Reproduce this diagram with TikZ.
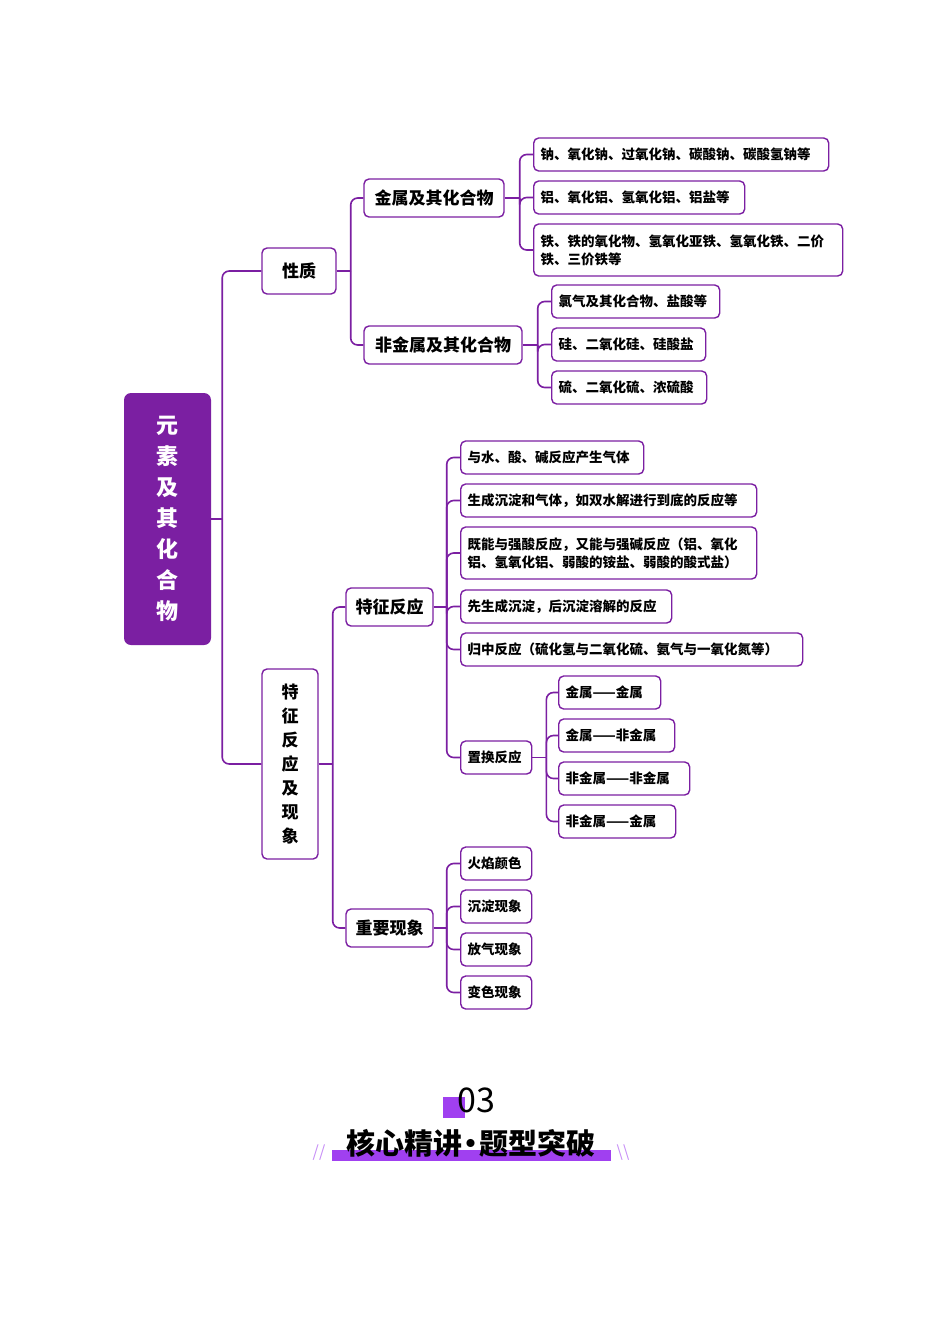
\documentclass[tikz,border=0pt]{standalone}
\usepackage{fontspec}
\setmainfont{Noto Sans CJK SC}
\definecolor{mpurple}{RGB}{123,31,162}
\definecolor{bpurple}{RGB}{160,64,240}
\tikzset{
  box/.style={draw=mpurple, line width=1.4pt, rounded corners=5pt, fill=white, inner sep=0pt},
  leaf/.style={box, anchor=west, minimum height=33pt, inner xsep=7pt, font=\fontsize{13.5}{18}\selectfont\bfseries, align=left},
  mid/.style={box, minimum height=38pt, font=\fontsize{17}{20}\selectfont\bfseries},
  link/.style={draw=mpurple, line width=1.6pt, rounded corners=7pt},
}
\begin{document}
\begin{tikzpicture}[x=1pt,y=-1pt]
	\useasboundingbox (0,0) rectangle (950,1344);

	% root
	\node[fill=mpurple, rounded corners=7pt, minimum width=87pt, minimum height=252pt, text=white,
	  font=\fontsize{22}{31}\selectfont\bfseries, align=center] (root) at (167.5,519)
	  {元\\素\\及\\其\\化\\合\\物};

	% level 1
	\node[mid, minimum width=74pt, minimum height=46pt] (prop) at (299,271) {性质};
	\node[box, minimum width=56pt, minimum height=190pt, font=\fontsize{17}{24}\selectfont\bfseries, align=center]
	  (feat) at (290,764) {特\\征\\反\\应\\及\\现\\象};

	% level 2
	\node[mid, minimum width=140pt] (metal) at (434,198) {金属及其化合物};
	\node[mid, minimum width=158pt] (nonmetal) at (443,345) {非金属及其化合物};
	\node[mid, minimum width=87pt] (react) at (389.5,607) {特征反应};
	\node[mid, minimum width=87pt] (pheno) at (389.5,928) {重要现象};

	% metal leaves
	\node[leaf, text width=281pt] (m1) at (533,154.5) {钠、氧化钠、过氧化钠、碳酸钠、碳酸氢钠等};
	\node[leaf, text width=197pt] (m2) at (533,197.5) {铝、氧化铝、氢氧化铝、铝盐等};
	\node[leaf, text width=295pt, minimum height=52pt] (m3) at (533,250)
	  {铁、铁的氧化物、氢氧化亚铁、氢氧化铁、二价\\铁、三价铁等};

	% nonmetal leaves
	\node[leaf, text width=154pt] (n1) at (551,301.5) {氯气及其化合物、盐酸等};
	\node[leaf, text width=140pt] (n2) at (551,344.5) {硅、二氧化硅、硅酸盐};
	\node[leaf, text width=141pt] (n3) at (551,387.5) {硫、二氧化硫、浓硫酸};

	% reaction leaves
	\node[leaf, text width=169pt] (r1) at (460,457.5) {与水、酸、碱反应产生气体};
	\node[leaf, text width=282pt] (r2) at (460,500.5) {生成沉淀和气体，如双水解进行到底的反应等};
	\node[leaf, text width=282pt, minimum height=52pt] (r3) at (460,553)
	  {既能与强酸反应，又能与强碱反应（铝、氧化\\铝、氢氧化铝、弱酸的铵盐、弱酸的酸式盐）};
	\node[leaf, text width=197pt] (r4) at (460,606.5) {先生成沉淀，后沉淀溶解的反应};
	\node[leaf, text width=328pt] (r5) at (460,649.5) {归中反应（硫化氢与二氧化硫、氨气与一氧化氮等）};
	\node[leaf, text width=57pt] (subst) at (460,757.5) {置换反应};

	% substitution leaves
	\node[leaf, text width=88pt] (s1) at (558,692.5) {金属——金属};
	\node[leaf, text width=102pt] (s2) at (558,735.5) {金属——非金属};
	\node[leaf, text width=117pt] (s3) at (558,778.5) {非金属——非金属};
	\node[leaf, text width=103pt] (s4) at (558,821.5) {非金属——金属};

	% phenomenon leaves
	\node[leaf, text width=57pt] (p1) at (460,863.5) {火焰颜色};
	\node[leaf, text width=57pt] (p2) at (460,906.5) {沉淀现象};
	\node[leaf, text width=57pt] (p3) at (460,949.5) {放气现象};
	\node[leaf, text width=57pt] (p4) at (460,992.5) {变色现象};

	% connectors
	\draw[link] (root.east) -- ++(11,0) coordinate (jroot);
	\draw[link] (prop.east) -- ++(14,0) coordinate (jprop);
	\draw[link] (feat.east) -- ++(14,0) coordinate (jfeat);
	\draw[link] (metal.east) -- ++(15,0) coordinate (jmetal);
	\draw[link] (nonmetal.east) -- ++(15,0) coordinate (jnon);
	\draw[link] (react.east) -- ++(13,0) coordinate (jreact);
	\draw[link] (subst.east) -- ++(14,0) coordinate (jsubst);
	\draw[link] (pheno.east) -- ++(13,0) coordinate (jpheno);
	\foreach \c in {prop,feat} \draw[link] (jroot) |- (\c.west);
	\foreach \c in {metal,nonmetal} \draw[link] (jprop) |- (\c.west);
	\foreach \c in {react,pheno} \draw[link] (jfeat) |- (\c.west);
	\foreach \c in {m1,m2,m3} \draw[link] (jmetal) |- (\c.west);
	\foreach \c in {n1,n2,n3} \draw[link] (jnon) |- (\c.west);
	\foreach \c in {r1,r2,r3,r4,r5,subst} \draw[link] (jreact) |- (\c.west);
	\foreach \c in {s1,s2,s3,s4} \draw[link] (jsubst) |- (\c.west);
	\foreach \c in {p1,p2,p3,p4} \draw[link] (jpheno) |- (\c.west);

	% banner
	\fill[bpurple] (443,1097) rectangle (465,1118);
	\node[font=\fontsize{34}{34}\selectfont] (num) at (476,1100) {03};
	\fill[bpurple] (332,1150) rectangle (611,1161);
	\node[font=\fontsize{29}{29}\selectfont\bfseries] (title) at (471,1143) {核心精讲\kern-6pt•\kern-6pt题型突破};
	\node[text=bpurple!60, font=\fontsize{16}{16}\selectfont] (sl) at (319,1153) {//};
	\node[text=bpurple!60, font=\fontsize{16}{16}\selectfont] (sr) at (623,1153) {\textbackslash\textbackslash};
\end{tikzpicture}
\end{document}
